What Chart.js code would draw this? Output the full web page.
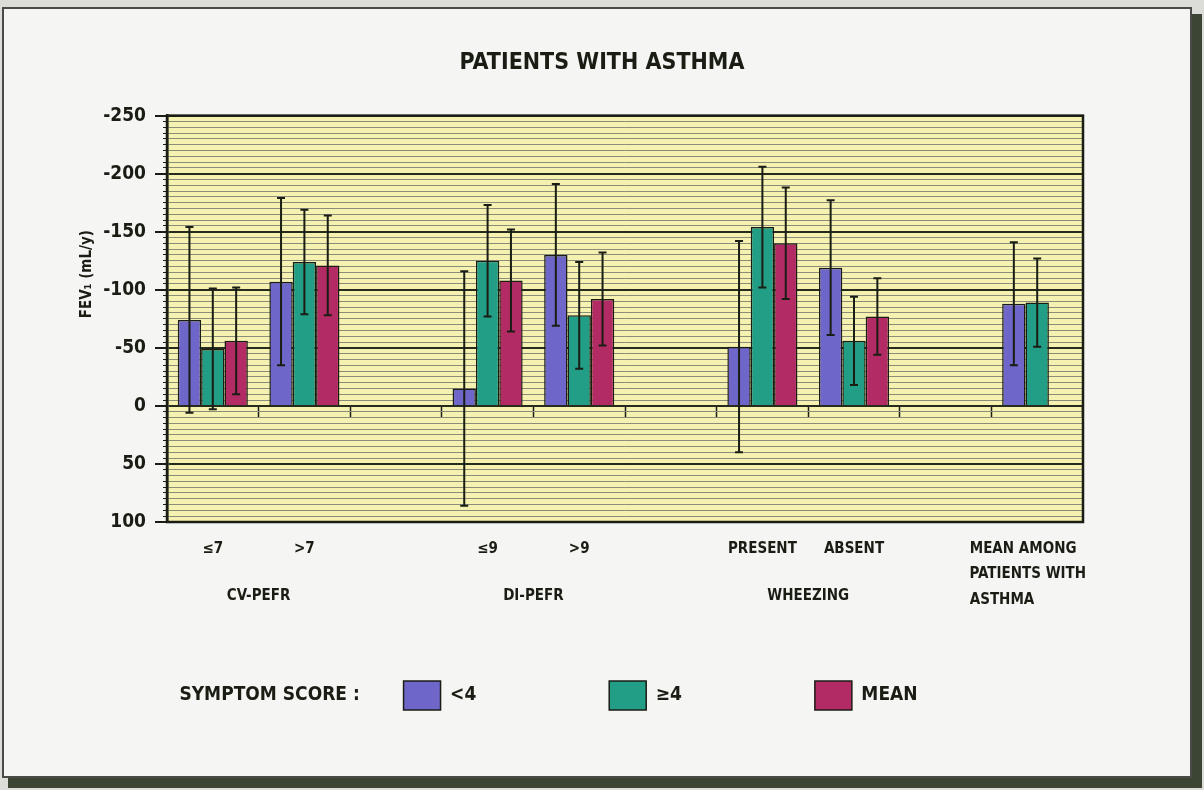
<!DOCTYPE html>
<html><head><meta charset="utf-8">
<script src="https://cdn.jsdelivr.net/npm/chart.js@4.4.1/dist/chart.umd.min.js"></script>
<style>
html,body{margin:0;padding:0;background:#dcdcd8;}
#wrap{position:relative;width:1204px;height:790px;overflow:hidden;background:#dcdcd8;}
#shadow{position:absolute;left:8px;top:14px;width:1194px;height:774px;background:#3c4433;}
#panel{position:absolute;left:2px;top:7px;width:1186px;height:767px;background:#f5f5f3;border:2px solid #4a4a46;}
canvas{position:absolute;left:0;top:0;}
</style></head>
<body>
<div id="wrap"><div id="shadow"></div><div id="panel"></div>
<canvas id="c" width="1204" height="790"></canvas></div>
<script>
// ---- data ----
const categories = ['≤7', '>7', '', '≤9', '>9', '', 'PRESENT', 'ABSENT', '', ['MEAN AMONG', 'PATIENTS WITH', 'ASTHMA']];
const groupLabels = ['CV-PEFR', 'DI-PEFR', 'WHEEZING'];
const groupMembers = [[0, 1], [3, 4], [6, 7]];
const seriesNames = ['<4', '≥4', 'MEAN'];
const legendTitle = 'SYMPTOM SCORE :';
const lowScore = [-74, -107, null, -15, -130, null, -51, -119, null, -88];
const lowScoreErr = [80, 72, null, 101, 61, null, 91, 58, null, 53];
const highScore = [-49, -124, null, -125, -78, null, -154, -56, null, -89];
const highScoreErr = [52, 45, null, 48, 46, null, 52, 38, null, 38];
const meanScore = [-56, -121, null, -108, -92, null, -140, -77, null, null];
const meanScoreErr = [46, 43, null, 44, 40, null, 48, 33, null, null];
const yMin = -250, yMax = 100, yMajor = 50, yMinor = 5;
const chartTitle = 'PATIENTS WITH ASTHMA';
const yTitle = 'FEV₁ (mL/y)';

// ---- styles ----
const FONT = "'Liberation Sans Narrow', 'DejaVu Sans Condensed', 'Roboto Condensed', 'Liberation Sans', sans-serif";
const INK = '#1a1d14';
const colors = ['#6f66c9', '#229d86', '#b32b64'];
const plotFill = '#f5f1b0';

const measurer = document.createElement('canvas').getContext('2d');
function textW(t, font) { measurer.font = font; return measurer.measureText(t).width; }
function padEnd(text, font, width) {
  let s = text; while (textW(s + ' ', font) <= width) s += ' '; return s;
}
function padStart(text, font, width) {
  let s = text; while (textW(' ' + s, font) <= width) s = ' ' + s; return s;
}
const tickFontStr = 'bold 15px ' + FONT;
const legendFontStr = 'bold 19px ' + FONT;
const yTitleFontStr = 'bold 15px ' + FONT;
// left-align the multi-line last label inside its block
const labelsForAxis = categories.map(c => {
  if (!Array.isArray(c)) return c;
  const w = Math.max(...c.map(l => textW(l, tickFontStr)));
  return c.map(l => padEnd(l, tickFontStr, w + 22));
});
// legend spacing (text lead / total text widths)
const legendLead = [120, 0, 0, 0];
const legendTextWidth = [330, 148, 151, 0];
function legendText(t, i) {
  let s = padStart(t, legendFontStr, textW(t, legendFontStr) + legendLead[i]);
  return padEnd(s, legendFontStr, legendTextWidth[i]);
}

const plotBg = {
  id: 'plotBg',
  beforeDraw(chart) {
    const {ctx, chartArea: a} = chart;
    ctx.save(); ctx.fillStyle = plotFill; ctx.fillRect(a.left, a.top, a.right - a.left, a.bottom - a.top); ctx.restore();
  },
  afterDraw(chart) {
    const {ctx, chartArea: a} = chart;
    ctx.save(); ctx.strokeStyle = INK; ctx.lineWidth = 2.5; ctx.strokeRect(a.left, a.top, a.right - a.left, a.bottom - a.top); ctx.restore();
  }
};
const groupAxisLabels = {
  id: 'groupAxisLabels',
  afterDraw(chart) {
    const {ctx, chartArea: a} = chart; const x = chart.scales.x;
    ctx.save(); ctx.fillStyle = INK; ctx.font = tickFontStr; ctx.textAlign = 'center'; ctx.textBaseline = 'middle';
    groupMembers.forEach((g, i) => {
      const cx = (x.getPixelForValue(g[0]) + x.getPixelForValue(g[g.length - 1])) / 2;
      ctx.fillText(groupLabels[i], cx, a.bottom + 74);
    });
    ctx.restore();
  }
};
const errorBars = {
  id: 'errorBars',
  afterDatasetsDraw(chart) {
    const {ctx} = chart; const y = chart.scales.y;
    ctx.save(); ctx.strokeStyle = INK; ctx.lineWidth = 2;
    chart.data.datasets.forEach((ds, i) => {
      const meta = chart.getDatasetMeta(i);
      meta.data.forEach((bar, j) => {
        const v = ds.data[j], e = ds.errors[j];
        if (v == null || e == null) return;
        const y1 = y.getPixelForValue(v - e), y2 = y.getPixelForValue(v + e);
        ctx.beginPath();
        ctx.moveTo(bar.x, y1); ctx.lineTo(bar.x, y2);
        ctx.moveTo(bar.x - 4, y1); ctx.lineTo(bar.x + 4, y1);
        ctx.moveTo(bar.x - 4, y2); ctx.lineTo(bar.x + 4, y2);
        ctx.stroke();
      });
    });
    ctx.restore();
  }
};

const seriesData = [lowScore, highScore, meanScore];
const seriesErr = [lowScoreErr, highScoreErr, meanScoreErr];

new Chart(document.getElementById('c'), {
  type: 'bar',
  data: {
    labels: labelsForAxis,
    datasets: seriesNames.map((n, i) => ({
      label: n, data: seriesData[i], errors: seriesErr[i],
      backgroundColor: colors[i], borderColor: INK, borderWidth: 1.5,
      barPercentage: 1, categoryPercentage: 0.765
    }))
  },
  options: {
    responsive: false, animation: false, devicePixelRatio: 1,
    layout: {padding: {left: 0, right: 0, top: 0, bottom: 70}},
    plugins: {
      title: {display: true, text: chartTitle, color: INK, font: {family: FONT, size: 23, weight: 'bold', lineHeight: 1.2}, padding: {top: 49, bottom: 39}},
      tooltip: {enabled: false},
      legend: {
        position: 'bottom', align: 'start',
        labels: {
          color: INK, font: {family: FONT, size: 19, weight: 'bold'},
          boxWidth: 37, boxHeight: 29, padding: 14,
          generateLabels(chart) {
            const items = [{text: legendText(legendTitle, 0), fillStyle: 'rgba(0,0,0,0)', strokeStyle: 'rgba(0,0,0,0)', lineWidth: 0, hidden: false, fontColor: INK}];
            chart.data.datasets.forEach((ds, i) => items.push({
              text: legendText(ds.label, i + 1),
              fillStyle: ds.backgroundColor, strokeStyle: INK, lineWidth: 1.5, hidden: false, datasetIndex: i, fontColor: INK
            }));
            return items;
          }
        }
      }
    },
    scales: {
      x: {
        type: 'category', position: 'bottom', offset: true,
        grid: {display: false, drawTicks: false}, border: {display: false},
        ticks: {color: INK, font: {family: FONT, size: 15, weight: 'bold', lineHeight: 1.7}, padding: 14, maxRotation: 0, autoSkip: false},
        afterFit(s) { s.height = 145; }
      },
      xMarks: {
        type: 'category', labels: labelsForAxis, position: {y: 0}, offset: true,
        grid: {offset: true, drawOnChartArea: false, tickLength: 12, tickWidth: 1.5,
          tickColor: c => (c.index === 0 || c.index >= categories.length ? 'rgba(0,0,0,0)' : INK)},
        ticks: {display: false}, border: {display: false}
      },
      y: {
        type: 'linear', reverse: true, min: yMin, max: yMax,
        afterBuildTicks(s) { const t = []; for (let v = yMin; v <= yMax; v += yMinor) t.push({value: v}); s.ticks = t; },
        ticks: {color: INK, font: {family: FONT, size: 19, weight: 'bold'}, padding: 9, autoSkip: false,
          callback: v => (v % yMajor === 0 ? String(v) : '')},
        grid: {
          color: c => (c.tick && c.tick.value % yMajor === 0 ? '#262b1e' : '#8c8c7a'),
          lineWidth: c => (c.tick && c.tick.value % yMajor === 0 ? 2 : 1),
          tickColor: INK, tickLength: 12,
          tickWidth: c => (c.tick && c.tick.value % yMajor === 0 ? 2 : 1.2),
          tickBorderDash: c => (c.tick && c.tick.value % yMajor === 0 ? [] : [0, 8, 4, 0])
        },
        border: {display: true, color: INK, width: 2.5},
        title: {display: true, text: padStart(yTitle, yTitleFontStr, 2 * textW(yTitle, yTitleFontStr) + 2), color: INK,
          font: {family: FONT, size: 15, weight: 'bold'}, padding: {top: 78, bottom: 0}},
        afterFit(s) { s.width = 167; }
      },
      yRightSpace: {
        type: 'linear', position: 'right', display: true,
        grid: {display: false, drawTicks: false}, border: {display: false}, ticks: {display: false},
        afterFit(s) { s.width = 121; }
      }
    }
  },
  plugins: [plotBg, groupAxisLabels, errorBars]
});
</script>
</body></html>
